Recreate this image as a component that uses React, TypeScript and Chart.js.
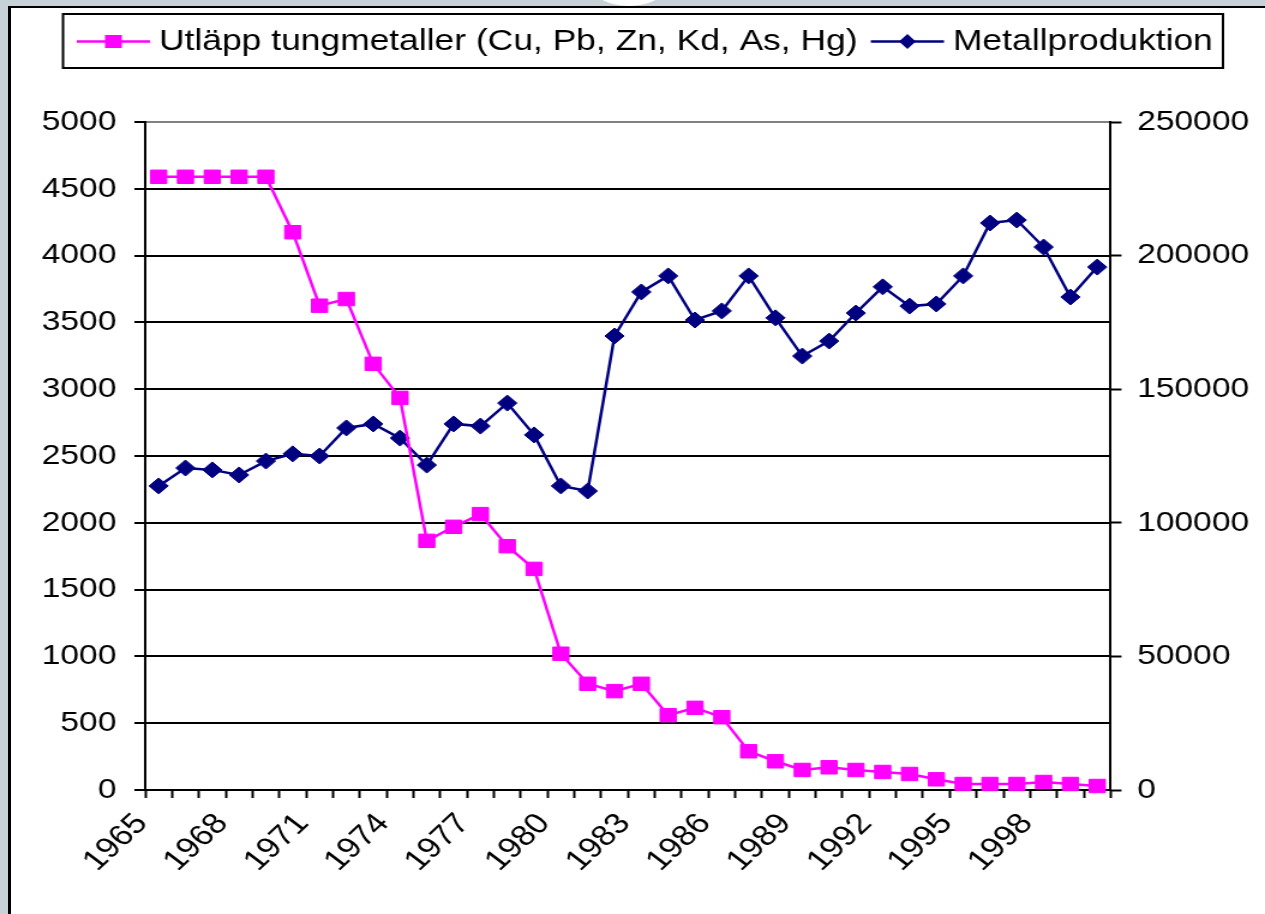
import React, { useEffect, useRef } from 'react';
import { Chart, registerables } from 'chart.js';

Chart.register(...registerables);

const years = [
  '1965', '1966', '1967', '1968', '1969', '1970', '1971', '1972', '1973', '1974',
  '1975', '1976', '1977', '1978', '1979', '1980', '1981', '1982', '1983', '1984',
  '1985', '1986', '1987', '1988', '1989', '1990', '1991', '1992', '1993', '1994',
  '1995', '1996', '1997', '1998', '1999', '2000',
];

const shownYearLabels = ['1965', '1968', '1971', '1974', '1977', '1980', '1983', '1986', '1989', '1992', '1995', '1998'];

const emissions = [
  4590, 4590, 4590, 4590, 4590, 4175, 3625, 3675, 3190, 2935,
  1865, 1970, 2065, 1825, 1655, 1020, 795, 740, 795, 560,
  615, 545, 290, 215, 150, 170, 150, 135, 120, 80,
  45, 45, 45, 60, 45, 30,
];

const production = [
  113800, 120500, 119800, 117900, 123100, 125800, 125000, 135500, 137000, 131700,
  121600, 137000, 136200, 144800, 132900, 113800, 111900, 169900, 186400, 192400,
  175900, 179300, 192400, 176700, 162400, 168000, 178500, 188300, 181100, 181900,
  192400, 212200, 213300, 203200, 184500, 195700,
];

const seriesNames = ['Utläpp tungmetaller (Cu, Pb, Zn, Kd, As, Hg)', 'Metallproduktion'];
const leftTicks = { min: 0, max: 5000, step: 500 };
const rightTicks = { min: 0, max: 250000, step: 50000 };

const FONT = '"Liberation Sans", Arial, sans-serif';
const PINK = '#FF00FF';
const NAVY = '#000080';
const INNER_W = 1054;
const H = 914;
const STRETCH = 1265 / INNER_W;

const legendPlugin = {
  id: 'boxLegend',
  afterDraw(chart: any) {
    const ctx = chart.ctx as CanvasRenderingContext2D;
    ctx.save();
    ctx.strokeStyle = '#000';
    ctx.lineWidth = 2;
    ctx.strokeRect(52.5, 14, 1019 - 52.5, 54);
    const y = 41.5;
    ctx.font = `29.5px ${FONT}`;
    ctx.textBaseline = 'middle';
    ctx.textAlign = 'left';

    let x = 64;
    ctx.strokeStyle = PINK;
    ctx.lineWidth = 2.5;
    ctx.beginPath();
    ctx.moveTo(x, y);
    ctx.lineTo(x + 61, y);
    ctx.stroke();
    ctx.fillStyle = PINK;
    ctx.fillRect(x + 30.5 - 7, y - 6.5, 14, 13);
    ctx.fillStyle = '#000';
    ctx.fillText(seriesNames[0], x + 68.5, y);
    const w1 = ctx.measureText(seriesNames[0]).width;

    x = x + 68.5 + w1 + 11;
    ctx.strokeStyle = NAVY;
    ctx.lineWidth = 2.5;
    ctx.beginPath();
    ctx.moveTo(x, y);
    ctx.lineTo(x + 61, y);
    ctx.stroke();
    ctx.fillStyle = NAVY;
    const cx = x + 30.5;
    ctx.beginPath();
    ctx.moveTo(cx, y - 7.5);
    ctx.lineTo(cx + 7, y);
    ctx.lineTo(cx, y + 7.5);
    ctx.lineTo(cx - 7, y);
    ctx.closePath();
    ctx.fill();
    ctx.fillStyle = '#000';
    ctx.fillText(seriesNames[1], x + 68.5, y);
    ctx.restore();
  },
};

export default function App() {
  const canvasRef = useRef<HTMLCanvasElement | null>(null);

  useEffect(() => {
    if (!canvasRef.current) return;
    const chart = new Chart(canvasRef.current, {
      type: 'line',
      data: {
        labels: years,
        datasets: [
          {
            label: seriesNames[0],
            data: emissions,
            yAxisID: 'y',
            borderColor: PINK,
            backgroundColor: PINK,
            borderWidth: 2.5,
            pointStyle: 'rect',
            pointRadius: 9.5,
            pointBorderWidth: 1,
            pointBorderColor: PINK,
            pointBackgroundColor: PINK,
            tension: 0,
            clip: false,
          },
          {
            label: seriesNames[1],
            data: production,
            yAxisID: 'y1',
            borderColor: NAVY,
            backgroundColor: NAVY,
            borderWidth: 2.5,
            pointStyle: 'rectRot',
            pointRadius: 8,
            pointBorderWidth: 1,
            pointBorderColor: NAVY,
            pointBackgroundColor: NAVY,
            tension: 0,
            clip: false,
          },
        ],
      },
      options: {
        responsive: false,
        maintainAspectRatio: false,
        animation: false,
        devicePixelRatio: 1,
        layout: { padding: { top: 122, left: 0, right: 0, bottom: 0 } },
        plugins: {
          legend: { display: false },
          tooltip: { enabled: false },
        },
        scales: {
          x: {
            type: 'category',
            offset: true,
            grid: {
              offset: true,
              drawOnChartArea: false,
              tickLength: 8,
              tickColor: '#000',
              tickWidth: 2,
            },
            border: { color: '#000', width: 2 },
            ticks: {
              autoSkip: false,
              minRotation: 48,
              maxRotation: 48,
              color: '#000',
              padding: 9,
              labelOffset: -14,
              font: { family: FONT, size: 29 },
              callback: (_v: any, i: number) => (shownYearLabels.includes(years[i]) ? years[i] : ''),
            },
            afterFit: (s: any) => {
              s.height = H - 790;
            },
          },
          y: {
            type: 'linear',
            position: 'left',
            min: leftTicks.min,
            max: leftTicks.max,
            grid: {
              color: (c: any) => (c.tick && c.tick.value === leftTicks.max ? '#808080' : '#000'),
              lineWidth: 2,
              tickLength: 9,
              tickColor: '#000',
              tickWidth: 2,
            },
            border: { color: '#000', width: 2 },
            ticks: {
              stepSize: leftTicks.step,
              color: '#000',
              padding: 15,
              font: { family: FONT, size: 28 },
              callback: (v: any) => String(v),
            },
            afterFit: (s: any) => {
              s.width = 121;
            },
          },
          y1: {
            type: 'linear',
            position: 'right',
            min: rightTicks.min,
            max: rightTicks.max,
            grid: {
              drawOnChartArea: false,
              tickLength: 9,
              tickColor: '#000',
              tickWidth: 2,
            },
            border: { color: '#000', width: 2 },
            ticks: {
              stepSize: rightTicks.step,
              color: '#000',
              padding: 13,
              font: { family: FONT, size: 28 },
              callback: (v: any) => String(v),
            },
            afterFit: (s: any) => {
              s.width = INNER_W - 925.4;
            },
          },
        },
      },
      plugins: [legendPlugin],
    } as any);
    return () => chart.destroy();
  }, []);

  return (
    <div
      style={{
        position: 'fixed',
        left: 0,
        top: 0,
        width: 1265,
        height: 914,
        background: '#c6d1d8',
        overflow: 'hidden',
      }}
    >
      <div
        style={{
          position: 'absolute',
          left: 593,
          top: -32,
          width: 72,
          height: 38,
          borderRadius: '50%',
          background: '#fff',
        }}
      />
      <div
        style={{
          position: 'absolute',
          left: 8,
          top: 6,
          width: 1300,
          height: 960,
          background: '#fff',
          borderLeft: '3px solid #000',
          borderTop: '2px solid #000',
        }}
      />
      <div
        style={{
          position: 'absolute',
          left: 0,
          top: 0,
          width: INNER_W,
          height: H,
          transform: `scaleX(${STRETCH})`,
          transformOrigin: '0 0',
        }}
      >
        <canvas
          ref={canvasRef}
          width={INNER_W}
          height={H}
          style={{ display: 'block', width: INNER_W, height: H }}
        />
      </div>
    </div>
  );
}
